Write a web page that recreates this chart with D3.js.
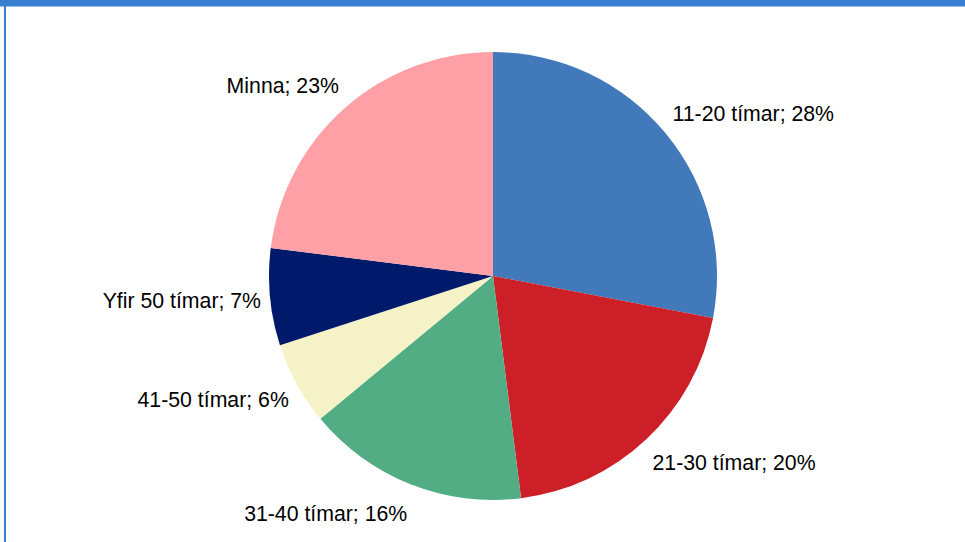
<!DOCTYPE html>
<html><head><meta charset="utf-8">
<script src="https://cdn.jsdelivr.net/npm/d3@7/dist/d3.min.js"></script>
<style>html,body{margin:0;padding:0;background:#fff;overflow:hidden}</style>
</head><body>
<svg id="c" width="965" height="542"></svg>
<script>
const categories = ["11-20 tímar","21-30 tímar","31-40 tímar","41-50 tímar","Yfir 50 tímar","Minna"];
const values = [28, 20, 16, 6, 7, 23];
const colors = ["#4279BA","#CC1F27","#52AD85","#F5F2C8","#001A6B","#FFA0A6"];

const svg = d3.select("#c");
// frame
svg.append("rect").attr("x",0).attr("y",0).attr("width",965).attr("height",6.5).attr("fill","#387FD1");
svg.append("rect").attr("x",4).attr("y",0).attr("width",2).attr("height",542).attr("fill","#387FD1");

const cx = 493, cy = 276, r = 224;
const g = svg.append("g").attr("transform",`translate(${cx},${cy})`);
const total = d3.sum(values);
const pie = d3.pie().sort(null).value(d=>d)(values);
const arc = d3.arc().innerRadius(0).outerRadius(r);
g.selectAll("path.s").data(pie).join("path").attr("class","s")
  .attr("d",arc).attr("fill",(d,i)=>colors[i]);

const R0x = 233, R0y = 255;
pie.forEach((d,i)=>{
  const a = (d.startAngle+d.endAngle)/2;
  const s = Math.sin(a), c = Math.cos(a);
  const t = g.append("text").attr("font-family","'Liberation Sans', Arial, sans-serif")
    .attr("font-size",22.5).attr("fill","#000")
    .text(categories[i] + "; " + Math.round(d.value/total*100) + "%");
  const w = t.node().getComputedTextLength() * 0.945;
  t.attr("textLength", w).attr("lengthAdjust","spacingAndGlyphs");
  const x = R0x*s + Math.sign(s)*w/2;
  const y = -R0y*c;
  t.attr("text-anchor","middle").attr("x",x).attr("y",y).attr("dy","0.35em");
});
</script>
</body></html>
